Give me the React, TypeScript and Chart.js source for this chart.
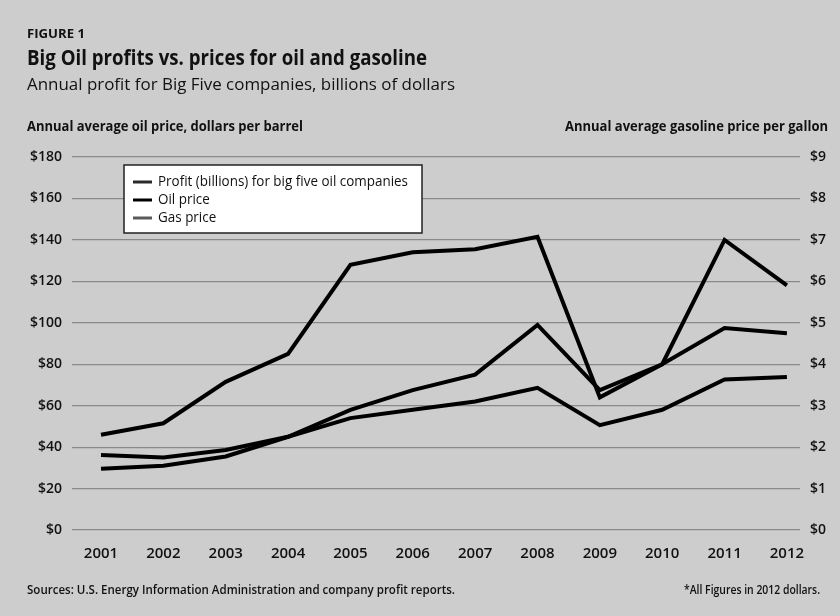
import React, { useEffect, useRef } from 'react';
import { Chart, registerables } from 'chart.js';

Chart.register(...registerables);

// ---- data ----
const years = [2001, 2002, 2003, 2004, 2005, 2006, 2007, 2008, 2009, 2010, 2011, 2012];
const profit = [46, 51.5, 71.5, 85, 128, 134, 135.5, 141.5, 64, 80, 140, 118];
const oilPrice = [29.5, 31, 35.5, 45, 58, 67.5, 75, 99, 67.5, 80, 97.5, 95];
const gasPrice = [1.81, 1.75, 1.93, 2.25, 2.7, 2.9, 3.1, 3.43, 2.53, 2.9, 3.63, 3.69];
const seriesLabels = ['Profit (billions) for big five oil companies', 'Oil price', 'Gas price'];
const legendMarkerColors = ['#2a2a2a', '#000000', '#5a5a5a'];

const figureLabel = 'FIGURE 1';
const titleText = 'Big Oil profits vs. prices for oil and gasoline';
const subtitleText = 'Annual profit for Big Five companies, billions of dollars';
const leftAxisTitle = 'Annual average oil price, dollars per barrel';
const rightAxisTitle = 'Annual average gasoline price per gallon';
const sourceText = 'Sources: U.S. Energy Information Administration and company profit reports.';
const noteText = '*All Figures in 2012 dollars.';

const FONT = '"Open Sans", "DejaVu Sans", sans-serif';
const INK = '#111111';

function fitText(ctx: CanvasRenderingContext2D, text: string, x: number, y: number, font: string, targetW: number | null, align: 'left' | 'right' = 'left') {
  ctx.save();
  ctx.font = font;
  ctx.fillStyle = INK;
  ctx.textBaseline = 'alphabetic';
  ctx.textAlign = 'left';
  const w = ctx.measureText(text).width;
  const s = targetW ? targetW / w : 1;
  const sx = align === 'right' ? x - w * s : x;
  ctx.translate(sx, y);
  ctx.scale(s, 1);
  ctx.fillText(text, 0, 0);
  ctx.restore();
}

const decorPlugin = {
  id: 'decor',
  beforeDraw(chart: any) {
    const ctx = chart.ctx as CanvasRenderingContext2D;
    ctx.save();
    ctx.fillStyle = '#cdcdcd';
    ctx.fillRect(0, 0, chart.width, chart.height);
    ctx.restore();
  },
  afterDraw(chart: any) {
    const ctx = chart.ctx as CanvasRenderingContext2D;
    fitText(ctx, figureLabel, 27, 38, `bold 12px ${FONT}`, 58);
    fitText(ctx, titleText, 27, 65, `bold 21px ${FONT}`, 400);
    fitText(ctx, subtitleText, 27, 90, `500 16px ${FONT}`, 428);
    fitText(ctx, leftAxisTitle, 27, 131, `bold 14px ${FONT}`, 276);
    fitText(ctx, rightAxisTitle, 828, 131, `bold 14px ${FONT}`, 263, 'right');
    fitText(ctx, sourceText, 27, 594, `600 12px ${FONT}`, 428);
    fitText(ctx, noteText, 820, 594, `600 12px ${FONT}`, 136, 'right');

    // legend box
    const bx = 124, by = 165, bw = 298, bh = 68;
    ctx.save();
    ctx.fillStyle = '#ffffff';
    ctx.fillRect(bx, by, bw, bh);
    ctx.strokeStyle = '#222222';
    ctx.lineWidth = 1.5;
    ctx.strokeRect(bx, by, bw, bh);
    ctx.restore();
    const labels = chart.data.datasets.map((d: any) => d.label as string);
    ctx.save();
    ctx.font = `500 14px ${FONT}`;
    const scale = 250 / ctx.measureText(labels[0]).width;
    ctx.restore();
    const rows = [182, 200, 218];
    labels.forEach((lab: string, i: number) => {
      const y = rows[i];
      ctx.save();
      ctx.strokeStyle = legendMarkerColors[i];
      ctx.lineWidth = 3;
      ctx.beginPath();
      ctx.moveTo(133, y);
      ctx.lineTo(152, y);
      ctx.stroke();
      ctx.restore();
      ctx.save();
      ctx.font = `500 14px ${FONT}`;
      ctx.fillStyle = INK;
      ctx.textBaseline = 'middle';
      ctx.translate(158, y);
      ctx.scale(scale, 1);
      ctx.fillText(lab, 0, 0);
      ctx.restore();
    });
  },
};

export default function App() {
  const ref = useRef<HTMLCanvasElement | null>(null);

  useEffect(() => {
    document.body.style.margin = '0';
    const canvas = ref.current;
    if (!canvas) return;
    const tickFont = { family: FONT, size: 14, weight: 600 as any };
    const xTickFont = { family: FONT, size: 15, weight: 600 as any };
    const lineStyle = { borderColor: '#000000', borderWidth: 4, pointRadius: 0, tension: 0, fill: false, borderJoinStyle: 'miter' as const };
    const chart = new Chart(canvas, {
      type: 'line',
      data: {
        datasets: [
          { label: seriesLabels[0], data: years.map((x, i) => ({ x, y: profit[i] })), yAxisID: 'y', ...lineStyle },
          { label: seriesLabels[1], data: years.map((x, i) => ({ x, y: oilPrice[i] })), yAxisID: 'y', ...lineStyle },
          { label: seriesLabels[2], data: years.map((x, i) => ({ x, y: gasPrice[i] })), yAxisID: 'y2', ...lineStyle },
        ],
      },
      options: {
        animation: false,
        responsive: false,
        devicePixelRatio: 1,
        layout: { padding: { top: 157, bottom: 46, left: 0, right: 0 } },
        plugins: { legend: { display: false }, tooltip: { enabled: false }, title: { display: false } },
        scales: {
          x: {
            type: 'linear',
            min: 2000.535,
            max: 2012.21,
            afterBuildTicks: (s: any) => { s.ticks = years.map((v) => ({ value: v })); },
            afterFit: (s: any) => { s.height = 40; },
            grid: { display: false, drawTicks: false },
            border: { display: false },
            ticks: { callback: (v: any) => String(v), font: xTickFont, color: INK, padding: 15, maxRotation: 0, autoSkip: false },
          },
          y: {
            position: 'left',
            min: 0,
            max: 180,
            afterFit: (s: any) => { s.width = 72; },
            grid: { color: '#8a8a8a', lineWidth: 1.2, drawTicks: false },
            border: { display: false },
            ticks: { stepSize: 20, callback: (v: any) => '$' + v, font: tickFont, color: INK, padding: 10 },
          },
          y2: {
            position: 'right',
            min: 0,
            max: 9,
            afterFit: (s: any) => { s.width = 40; },
            grid: { display: false, drawTicks: false },
            border: { display: false },
            ticks: { stepSize: 1, callback: (v: any) => '$' + v, font: tickFont, color: INK, padding: 10 },
          },
        },
      },
      plugins: [decorPlugin],
    });
    return () => chart.destroy();
  }, []);

  return <canvas ref={ref} width={840} height={616} style={{ display: 'block' }} />;
}
